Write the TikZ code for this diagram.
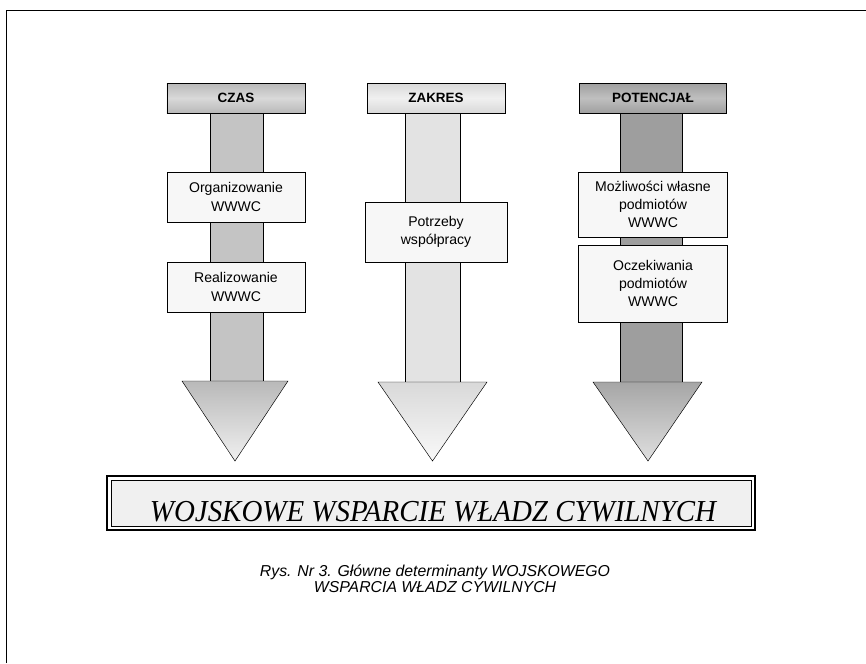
\documentclass[tikz,border=0pt]{standalone}
\usepackage{fontspec}
\setmainfont{Liberation Sans}
\newfontfamily\serifit[FakeStretch=0.95]{Liberation Serif}

\definecolor{trzonA}{gray}{0.77}
\definecolor{trzonB}{gray}{0.89}
\definecolor{trzonC}{gray}{0.62}

\tikzstyle{pix}=[x=0.03cm,y=-0.03cm]
\tikzstyle{opis}=[draw,fill=gray!6,align=center,inner sep=0pt,
	font=\fontsize{12}{15.5}\selectfont]
\tikzstyle{naglowek}=[draw,align=center,inner sep=0pt,minimum height=0.9cm,
	font=\fontsize{11.5}{12}\selectfont\bfseries]

\begin{document}
\begin{tikzpicture}[pix]
	\useasboundingbox (0,0) rectangle (866,663);
	\draw[line width=0.8pt] (6,663) -- (6,10) -- (866,10);
%
	\draw[fill=trzonA] (210,113) rectangle (263,381);
	\draw[top color=gray!55,bottom color=gray!12] (182,381) -- (288,381) -- (235,461) -- cycle;
	\node[naglowek,minimum width=4.14cm,top color=gray!55,bottom color=gray!55,middle color=gray!30]
		(czas) at (236,98) {CZAS};
	\node[opis,minimum width=4.14cm,minimum height=1.5cm] (org) at (236,197) {Organizowanie\\WWWC};
	\node[opis,minimum width=4.14cm,minimum height=1.5cm] (real) at (236,287) {Realizowanie\\WWWC};
%
	\draw[fill=trzonB] (405,113) rectangle (460,382);
	\draw[top color=gray!30,bottom color=gray!5] (378,382) -- (487,382) -- (432.5,461) -- cycle;
	\node[naglowek,minimum width=4.14cm,top color=gray!30,bottom color=gray!30,middle color=gray!12]
		(zakres) at (436,98) {ZAKRES};
	\node[opis,minimum width=4.26cm,minimum height=1.8cm] (potrz) at (436,232) {Potrzeby\\współpracy};
%
	\draw[fill=trzonC] (620,113) rectangle (682,382);
	\draw[top color=gray!70,bottom color=gray!25] (593,382) -- (702,382) -- (648,461) -- cycle;
	\node[naglowek,minimum width=4.41cm,top color=gray!75,bottom color=gray!75,middle color=gray!50]
		(potenc) at (653,98) {POTENCJAŁ};
	\node[opis,minimum width=4.47cm,minimum height=1.95cm] (mozl) at (653,204.5)
		{Możliwości własne\\podmiotów\\WWWC};
	\node[opis,minimum width=4.47cm,minimum height=2.31cm] (ocz) at (653,283.5)
		{Oczekiwania\\podmiotów\\WWWC};
%
	\draw[line width=1.3pt] (107,476) rectangle (755,530);
	\draw[fill=gray!12,line width=0.4pt] (111,480) rectangle (751,526);
	\node[anchor=base,font=\serifit\itshape\fontsize{26}{26}\selectfont] (wwwc) at (433,521)
		{WOJSKOWE WSPARCIE WŁADZ CYWILNYCH};
%
	\node[align=center,font=\itshape\fontsize{13.5}{14}\selectfont] (rys) at (435,579)
		{Rys. Nr 3. Główne determinanty WOJSKOWEGO\\WSPARCIA WŁADZ CYWILNYCH};
\end{tikzpicture}
\end{document}
